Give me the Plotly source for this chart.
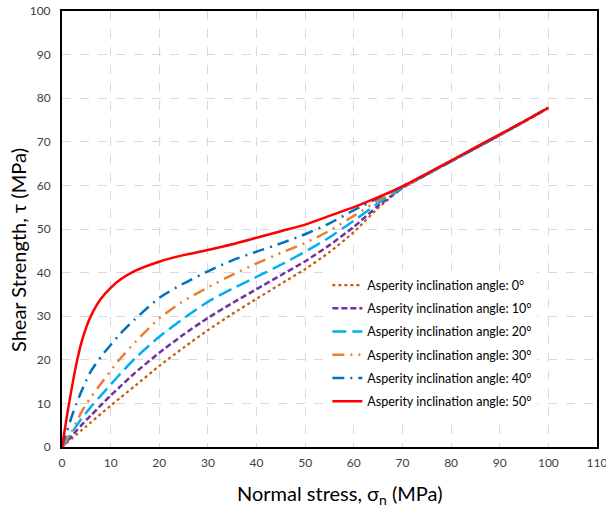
import plotly.graph_objects as go

sigma = [0, 1, 2, 3, 4, 5, 6, 8, 10, 12, 15, 20, 25, 30, 35, 40, 45, 50, 55, 60, 65, 70, 75, 80, 85, 90, 95, 100]

tau_0 = [0, 0.95, 1.9, 2.85, 3.8, 4.75, 5.7, 7.6, 9.5, 11.3, 14.0, 18.6, 22.8, 26.8, 30.5, 34.0, 37.4, 40.8, 44.7, 49.3, 54.8, 59.4, 62.5, 65.5, 68.5, 71.5, 74.6, 77.8]
tau_10 = [0, 1.25, 2.5, 3.75, 5.0, 6.2, 7.3, 9.6, 11.8, 13.9, 17.0, 21.6, 25.8, 29.6, 33.0, 36.2, 39.4, 42.6, 46.3, 50.5, 55.3, 59.4, 62.5, 65.5, 68.5, 71.5, 74.6, 77.8]
tau_20 = [0, 1.7, 3.3, 4.9, 6.5, 7.9, 9.3, 11.8, 14.3, 16.8, 20.3, 25.3, 29.5, 33.3, 36.3, 39.0, 41.8, 44.8, 48.1, 51.9, 55.9, 59.5, 62.5, 65.5, 68.5, 71.5, 74.6, 77.8]
tau_30 = [0, 1.8, 3.6, 5.8, 8.0, 9.8, 11.5, 14.5, 17.5, 20.3, 24.0, 29.5, 33.5, 36.6, 39.5, 42.1, 44.5, 46.8, 49.6, 53.0, 56.5, 59.6, 62.6, 65.6, 68.6, 71.6, 74.7, 77.8]
tau_40 = [0, 3.5, 7.0, 10.0, 12.8, 15.3, 17.5, 20.7, 23.4, 26.0, 29.3, 34.2, 37.5, 40.3, 42.8, 44.8, 46.7, 48.8, 51.3, 54.3, 57.1, 59.7, 62.6, 65.6, 68.6, 71.6, 74.7, 77.8]
tau_50 = [0, 7.0, 13.5, 19.3, 24.0, 27.5, 30.2, 34.0, 36.5, 38.4, 40.4, 42.5, 44.0, 45.2, 46.5, 48.0, 49.5, 51.0, 53.0, 55.0, 57.3, 59.8, 62.7, 65.7, 68.7, 71.7, 74.7, 77.8]

names = ["Asperity inclination angle: 0°", "Asperity inclination angle: 10°",
         "Asperity inclination angle: 20°", "Asperity inclination angle: 30°",
         "Asperity inclination angle: 40°", "Asperity inclination angle: 50°"]
series = [tau_0, tau_10, tau_20, tau_30, tau_40, tau_50]
colors = ["#C55A11", "#7030A0", "#00B0F0", "#ED7D31", "#0070C0", "#FF0000"]
dashes = ["dot", "6px,3px", "14px,6px", "12px,6px,2px,6px,2px,6px", "12px,6px,2px,6px", "solid"]
widths = [2.2, 2.5, 2.5, 2.5, 2.5, 2.5]

x_title = "Normal stress, σ<sub>n</sub> (MPa)"
y_title = "Shear Strength, τ (MPa)"

fig = go.Figure()
for i, (n, s, c, d, w) in enumerate(zip(names, series, colors, dashes, widths)):
    fig.add_trace(go.Scatter(x=sigma, y=s, mode="lines", name=n, legendgroup=f"g{i}",
                             line=dict(color=c, dash=d, width=w, shape="spline", smoothing=0.6)))

axis_common = dict(showline=True, linecolor="black", linewidth=2, mirror=True,
                   showgrid=True, gridcolor="#D9D9D9", griddash="dash", gridwidth=1,
                   zeroline=False, ticks="", automargin=False, ticklabeloverflow="allow",
                   tickfont=dict(family="Lato", size=12, color="#404040"))

fig.update_layout(
    width=606, height=512,
    margin=dict(l=62, r=9, t=11, b=65),
    plot_bgcolor="white", paper_bgcolor="white",
    font=dict(family="Lato"),
    xaxis=dict(range=[0, 110], dtick=10, tick0=0, ticklabelstandoff=4, **axis_common),
    yaxis=dict(range=[0, 100], dtick=10, tick0=0, ticklabelstandoff=7, **axis_common),
    legend=dict(x=0.496, y=0.405, xanchor="left", yanchor="top",
                bgcolor="white", borderwidth=0,
                font=dict(family="Lato", size=12.5, color="black"),
                itemwidth=30, tracegroupgap=4),
    showlegend=True,
    annotations=[
        dict(text=x_title, xref="paper", yref="paper", x=(339 - 62) / 535, y=-(494 - 447) / 436,
             xanchor="center", yanchor="middle", showarrow=False,
             font=dict(family="Lato", size=20, color="black")),
        dict(text=y_title, xref="paper", yref="paper", x=-(62 - 18) / 535, y=(447 - 250) / 436,
             xanchor="center", yanchor="middle", showarrow=False, textangle=-90,
             font=dict(family="Lato", size=20, color="black")),
    ],
)

fig.write_html("out.html", config={"displayModeBar": False},
               post_script="document.body.style.margin='0';document.body.style.padding='0';document.body.style.overflow='hidden';")
